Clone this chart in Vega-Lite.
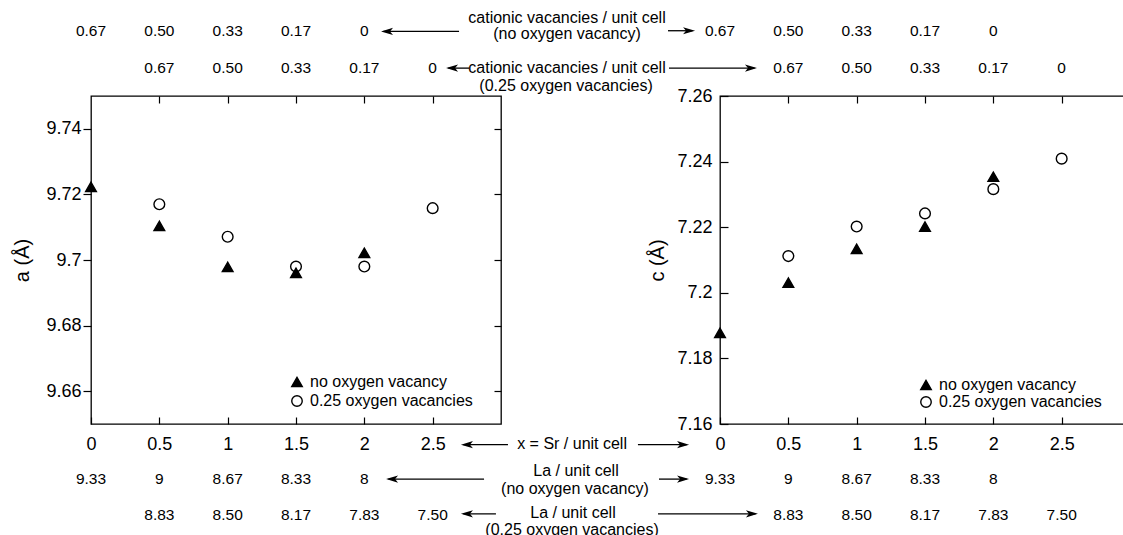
{
  "$schema": "https://vega.github.io/schema/vega-lite/v6.json",
  "padding": {"left": 12, "top": 9, "right": 0, "bottom": 0},
  "background": "white",
  "config": {
    "font": "Liberation Sans",
    "view": {"stroke": "black", "strokeWidth": 1.3},
    "axis": {"labelColor": "black", "tickColor": "black", "titleColor": "black", "tickWidth": 1.2, "labelFont": "Liberation Sans", "titleFont": "Liberation Sans", "grid": false, "domain": false},
    "legend": {"labelFont": "Liberation Sans", "labelColor": "black", "labelLimit": 400},
    "text": {"font": "Liberation Sans", "color": "black"}
  },
  "datasets": {
    "a": [
      {"Sr": 0.5, "series": "0.25 oxygen vacancies", "a": 9.7170},
      {"Sr": 1, "series": "0.25 oxygen vacancies", "a": 9.7071},
      {"Sr": 1.5, "series": "0.25 oxygen vacancies", "a": 9.6980},
      {"Sr": 2, "series": "0.25 oxygen vacancies", "a": 9.6980},
      {"Sr": 2.5, "series": "0.25 oxygen vacancies", "a": 9.7158},
      {"Sr": 0, "series": "no oxygen vacancy", "a": 9.7223},
      {"Sr": 0.5, "series": "no oxygen vacancy", "a": 9.7104},
      {"Sr": 1, "series": "no oxygen vacancy", "a": 9.6979},
      {"Sr": 1.5, "series": "no oxygen vacancy", "a": 9.6961},
      {"Sr": 2, "series": "no oxygen vacancy", "a": 9.7022}
    ],
    "c": [
      {"Sr": 0.5, "series": "0.25 oxygen vacancies", "c": 7.2112},
      {"Sr": 1, "series": "0.25 oxygen vacancies", "c": 7.2202},
      {"Sr": 1.5, "series": "0.25 oxygen vacancies", "c": 7.2242},
      {"Sr": 2, "series": "0.25 oxygen vacancies", "c": 7.2316},
      {"Sr": 2.5, "series": "0.25 oxygen vacancies", "c": 7.2409},
      {"Sr": 0, "series": "no oxygen vacancy", "c": 7.1878},
      {"Sr": 0.5, "series": "no oxygen vacancy", "c": 7.2031},
      {"Sr": 1, "series": "no oxygen vacancy", "c": 7.2134},
      {"Sr": 1.5, "series": "no oxygen vacancy", "c": 7.2202},
      {"Sr": 2, "series": "no oxygen vacancy", "c": 7.2354}
    ],
    "cat": [
      {"Sr": 0, "oxygen": "none", "vac": "0.67"},
      {"Sr": 0.5, "oxygen": "none", "vac": "0.50"},
      {"Sr": 1, "oxygen": "none", "vac": "0.33"},
      {"Sr": 1.5, "oxygen": "none", "vac": "0.17"},
      {"Sr": 2, "oxygen": "none", "vac": "0"},
      {"Sr": 0.5, "oxygen": "0.25", "vac": "0.67"},
      {"Sr": 1, "oxygen": "0.25", "vac": "0.50"},
      {"Sr": 1.5, "oxygen": "0.25", "vac": "0.33"},
      {"Sr": 2, "oxygen": "0.25", "vac": "0.17"},
      {"Sr": 2.5, "oxygen": "0.25", "vac": "0"}
    ],
    "la": [
      {"Sr": 0, "oxygen": "none", "La": "9.33"},
      {"Sr": 0.5, "oxygen": "none", "La": "9"},
      {"Sr": 1, "oxygen": "none", "La": "8.67"},
      {"Sr": 1.5, "oxygen": "none", "La": "8.33"},
      {"Sr": 2, "oxygen": "none", "La": "8"},
      {"Sr": 0.5, "oxygen": "0.25", "La": "8.83"},
      {"Sr": 1, "oxygen": "0.25", "La": "8.50"},
      {"Sr": 1.5, "oxygen": "0.25", "La": "8.17"},
      {"Sr": 2, "oxygen": "0.25", "La": "7.83"},
      {"Sr": 2.5, "oxygen": "0.25", "La": "7.50"}
    ],
    "one": [{}]
  },
  "spacing": 219,
  "bounds": "flush",
  "resolve": {"scale": {"shape": "independent", "fill": "independent"}, "legend": {"shape": "independent", "fill": "independent"}},
  "hconcat": [
    {
      "width": 410,
      "height": 328,
      "resolve": {"axis": {"x": "independent", "y": "independent"}},
      "layer": [
        {
          "data": {"name": "a"},
          "mark": {"type": "point", "filled": true, "stroke": "black", "strokeWidth": 1.4, "opacity": 1, "size": 115},
          "encoding": {
            "x": {"field": "Sr", "type": "quantitative", "scale": {"domain": [0, 3], "nice": false, "zero": false},
              "axis": {"orient": "bottom", "values": [0, 0.5, 1, 1.5, 2, 2.5], "format": "~g", "tickSize": -7, "labelPadding": 18, "labelFontSize": 18, "labelFlush": false, "title": null}},
            "y": {"field": "a", "type": "quantitative", "scale": {"domain": [9.65, 9.75], "nice": false, "zero": false},
              "axis": {"orient": "left", "values": [9.66, 9.68, 9.7, 9.72, 9.74], "format": "~g", "tickSize": 8, "labelPadding": 2, "labelFontSize": 18, "title": "a (Å)", "titleFontSize": 20, "titleFontWeight": "normal", "titlePadding": 13}},
            "shape": {"field": "series", "type": "nominal", "scale": {"domain": ["no oxygen vacancy", "0.25 oxygen vacancies"], "range": ["triangle-up", "circle"]},
              "legend": {"orient": "none", "legendX": 198, "legendY": 278, "title": null, "labelFontSize": 16, "symbolStrokeColor": "black", "symbolStrokeWidth": 1.4, "symbolSize": 110, "symbolFillColor": "black", "labelOffset": 5, "rowPadding": 2}},
            "fill": {"field": "series", "type": "nominal", "scale": {"domain": ["no oxygen vacancy", "0.25 oxygen vacancies"], "range": ["black", "white"]}, "legend": null}
          }
        },
        {
          "data": {"name": "a"},
          "mark": {"type": "point", "opacity": 0},
          "encoding": {
            "x": {"field": "Sr", "type": "quantitative", "axis": {"orient": "top", "values": [0.5, 1, 1.5, 2, 2.5], "tickSize": -7, "labels": false, "title": null}},
            "y": {"field": "a", "type": "quantitative", "axis": {"orient": "right", "values": [9.66, 9.68, 9.7, 9.72, 9.74], "tickSize": -7, "labels": false, "title": null}}
          }
        },
        {
          "data": {"name": "cat"},
          "transform": [{"filter": "datum.oxygen == 'none'"}],
          "mark": {"type": "text", "fontSize": 15.5, "baseline": "middle", "align": "center"},
          "encoding": {"x": {"field": "Sr", "type": "quantitative", "axis": null}, "y": {"datum": 9.7698, "type": "quantitative", "axis": null}, "text": {"field": "vac"}}
        },
        {
          "data": {"name": "cat"},
          "transform": [{"filter": "datum.oxygen == '0.25'"}],
          "mark": {"type": "text", "fontSize": 15.5, "baseline": "middle", "align": "center"},
          "encoding": {"x": {"field": "Sr", "type": "quantitative", "axis": null}, "y": {"datum": 9.7585, "type": "quantitative", "axis": null}, "text": {"field": "vac"}}
        },
        {
          "data": {"name": "la"},
          "transform": [{"filter": "datum.oxygen == 'none'"}],
          "mark": {"type": "text", "fontSize": 15.5, "baseline": "middle", "align": "center"},
          "encoding": {"x": {"field": "Sr", "type": "quantitative", "axis": null}, "y": {"datum": 9.6332, "type": "quantitative", "axis": null}, "text": {"field": "La"}}
        },
        {
          "data": {"name": "la"},
          "transform": [{"filter": "datum.oxygen == '0.25'"}],
          "mark": {"type": "text", "fontSize": 15.5, "baseline": "middle", "align": "center"},
          "encoding": {"x": {"field": "Sr", "type": "quantitative", "axis": null}, "y": {"datum": 9.6223, "type": "quantitative", "axis": null}, "text": {"field": "La"}}
        },
        {"data": {"name": "one"}, "mark": {"type": "text", "text": "cationic vacancies / unit cell", "fontSize": 16, "align": "center", "baseline": "middle"},
          "encoding": {"x": {"datum": 3.483, "type": "quantitative", "axis": null}, "y": {"datum": 9.7738, "type": "quantitative", "axis": null}}},
        {"data": {"name": "one"}, "mark": {"type": "text", "text": "(no oxygen vacancy)", "fontSize": 16, "align": "center", "baseline": "middle"},
          "encoding": {"x": {"datum": 3.483, "type": "quantitative", "axis": null}, "y": {"datum": 9.7689, "type": "quantitative", "axis": null}}},
        {"data": {"name": "one"}, "mark": {"type": "text", "text": "cationic vacancies / unit cell", "fontSize": 16, "align": "center", "baseline": "middle"},
          "encoding": {"x": {"datum": 3.483, "type": "quantitative", "axis": null}, "y": {"datum": 9.7584, "type": "quantitative", "axis": null}}},
        {"data": {"name": "one"}, "mark": {"type": "text", "text": "(0.25 oxygen vacancies)", "fontSize": 16, "align": "center", "baseline": "middle"},
          "encoding": {"x": {"datum": 3.476, "type": "quantitative", "axis": null}, "y": {"datum": 9.7532, "type": "quantitative", "axis": null}}},
        {"data": {"name": "one"}, "mark": {"type": "text", "text": "x = Sr / unit cell", "fontSize": 16, "align": "center", "baseline": "middle"},
          "encoding": {"x": {"datum": 3.52, "type": "quantitative", "axis": null}, "y": {"datum": 9.6439, "type": "quantitative", "axis": null}}},
        {"data": {"name": "one"}, "mark": {"type": "text", "text": "La / unit cell", "fontSize": 16, "align": "center", "baseline": "middle"},
          "encoding": {"x": {"datum": 3.549, "type": "quantitative", "axis": null}, "y": {"datum": 9.6357, "type": "quantitative", "axis": null}}},
        {"data": {"name": "one"}, "mark": {"type": "text", "text": "(no oxygen vacancy)", "fontSize": 16, "align": "center", "baseline": "middle"},
          "encoding": {"x": {"datum": 3.541, "type": "quantitative", "axis": null}, "y": {"datum": 9.6302, "type": "quantitative", "axis": null}}},
        {"data": {"name": "one"}, "mark": {"type": "text", "text": "La / unit cell", "fontSize": 16, "align": "center", "baseline": "middle"},
          "encoding": {"x": {"datum": 3.527, "type": "quantitative", "axis": null}, "y": {"datum": 9.6229, "type": "quantitative", "axis": null}}},
        {"data": {"name": "one"}, "mark": {"type": "text", "text": "(0.25 oxygen vacancies)", "fontSize": 16, "align": "center", "baseline": "middle"},
          "encoding": {"x": {"datum": 3.52, "type": "quantitative", "axis": null}, "y": {"datum": 9.6177, "type": "quantitative", "axis": null}}},

        {"data": {"name": "one"}, "mark": {"type": "rule", "color": "black", "strokeWidth": 1.3},
          "encoding": {"x": {"datum": 2.14, "type": "quantitative", "axis": null}, "x2": {"datum": 2.693}, "y": {"datum": 9.7697, "type": "quantitative", "axis": null}}},
        {"data": {"name": "one"}, "mark": {"type": "point", "shape": "M0,0L2,-0.6L1.5,0L2,0.6Z", "size": 144, "filled": true, "color": "black", "opacity": 1},
          "encoding": {"x": {"datum": 2.122, "type": "quantitative", "axis": null}, "y": {"datum": 9.7697, "type": "quantitative", "axis": null}}},
        {"data": {"name": "one"}, "mark": {"type": "rule", "color": "black", "strokeWidth": 1.3},
          "encoding": {"x": {"datum": 4.222, "type": "quantitative", "axis": null}, "x2": {"datum": 4.40}, "y": {"datum": 9.7699, "type": "quantitative", "axis": null}}},
        {"data": {"name": "one"}, "mark": {"type": "point", "shape": "M0,0L-2,-0.6L-1.5,0L-2,0.6Z", "size": 144, "filled": true, "color": "black", "opacity": 1},
          "encoding": {"x": {"datum": 4.42, "type": "quantitative", "axis": null}, "y": {"datum": 9.7699, "type": "quantitative", "axis": null}}},

        {"data": {"name": "one"}, "mark": {"type": "rule", "color": "black", "strokeWidth": 1.3},
          "encoding": {"x": {"datum": 2.615, "type": "quantitative", "axis": null}, "x2": {"datum": 2.766}, "y": {"datum": 9.7585, "type": "quantitative", "axis": null}}},
        {"data": {"name": "one"}, "mark": {"type": "point", "shape": "M0,0L2,-0.6L1.5,0L2,0.6Z", "size": 144, "filled": true, "color": "black", "opacity": 1},
          "encoding": {"x": {"datum": 2.598, "type": "quantitative", "axis": null}, "y": {"datum": 9.7585, "type": "quantitative", "axis": null}}},
        {"data": {"name": "one"}, "mark": {"type": "rule", "color": "black", "strokeWidth": 1.3},
          "encoding": {"x": {"datum": 4.229, "type": "quantitative", "axis": null}, "x2": {"datum": 4.855}, "y": {"datum": 9.7585, "type": "quantitative", "axis": null}}},
        {"data": {"name": "one"}, "mark": {"type": "point", "shape": "M0,0L-2,-0.6L-1.5,0L-2,0.6Z", "size": 144, "filled": true, "color": "black", "opacity": 1},
          "encoding": {"x": {"datum": 4.873, "type": "quantitative", "axis": null}, "y": {"datum": 9.7585, "type": "quantitative", "axis": null}}},

        {"data": {"name": "one"}, "mark": {"type": "rule", "color": "black", "strokeWidth": 1.3},
          "encoding": {"x": {"datum": 2.725, "type": "quantitative", "axis": null}, "x2": {"datum": 3.051}, "y": {"datum": 9.6437, "type": "quantitative", "axis": null}}},
        {"data": {"name": "one"}, "mark": {"type": "point", "shape": "M0,0L2,-0.6L1.5,0L2,0.6Z", "size": 144, "filled": true, "color": "black", "opacity": 1},
          "encoding": {"x": {"datum": 2.707, "type": "quantitative", "axis": null}, "y": {"datum": 9.6437, "type": "quantitative", "axis": null}}},
        {"data": {"name": "one"}, "mark": {"type": "rule", "color": "black", "strokeWidth": 1.3},
          "encoding": {"x": {"datum": 4.002, "type": "quantitative", "axis": null}, "x2": {"datum": 4.358}, "y": {"datum": 9.6437, "type": "quantitative", "axis": null}}},
        {"data": {"name": "one"}, "mark": {"type": "point", "shape": "M0,0L-2,-0.6L-1.5,0L-2,0.6Z", "size": 144, "filled": true, "color": "black", "opacity": 1},
          "encoding": {"x": {"datum": 4.376, "type": "quantitative", "axis": null}, "y": {"datum": 9.6437, "type": "quantitative", "axis": null}}},

        {"data": {"name": "one"}, "mark": {"type": "rule", "color": "black", "strokeWidth": 1.3},
          "encoding": {"x": {"datum": 2.177, "type": "quantitative", "axis": null}, "x2": {"datum": 2.876}, "y": {"datum": 9.6332, "type": "quantitative", "axis": null}}},
        {"data": {"name": "one"}, "mark": {"type": "point", "shape": "M0,0L2,-0.6L1.5,0L2,0.6Z", "size": 144, "filled": true, "color": "black", "opacity": 1},
          "encoding": {"x": {"datum": 2.159, "type": "quantitative", "axis": null}, "y": {"datum": 9.6332, "type": "quantitative", "axis": null}}},
        {"data": {"name": "one"}, "mark": {"type": "rule", "color": "black", "strokeWidth": 1.3},
          "encoding": {"x": {"datum": 4.156, "type": "quantitative", "axis": null}, "x2": {"datum": 4.358}, "y": {"datum": 9.6332, "type": "quantitative", "axis": null}}},
        {"data": {"name": "one"}, "mark": {"type": "point", "shape": "M0,0L-2,-0.6L-1.5,0L-2,0.6Z", "size": 144, "filled": true, "color": "black", "opacity": 1},
          "encoding": {"x": {"datum": 4.376, "type": "quantitative", "axis": null}, "y": {"datum": 9.6332, "type": "quantitative", "axis": null}}},

        {"data": {"name": "one"}, "mark": {"type": "rule", "color": "black", "strokeWidth": 1.3},
          "encoding": {"x": {"datum": 2.725, "type": "quantitative", "axis": null}, "x2": {"datum": 2.963}, "y": {"datum": 9.6226, "type": "quantitative", "axis": null}}},
        {"data": {"name": "one"}, "mark": {"type": "point", "shape": "M0,0L2,-0.6L1.5,0L2,0.6Z", "size": 144, "filled": true, "color": "black", "opacity": 1},
          "encoding": {"x": {"datum": 2.707, "type": "quantitative", "axis": null}, "y": {"datum": 9.6226, "type": "quantitative", "axis": null}}},
        {"data": {"name": "one"}, "mark": {"type": "rule", "color": "black", "strokeWidth": 1.3},
          "encoding": {"x": {"datum": 4.149, "type": "quantitative", "axis": null}, "x2": {"datum": 4.862}, "y": {"datum": 9.6226, "type": "quantitative", "axis": null}}},
        {"data": {"name": "one"}, "mark": {"type": "point", "shape": "M0,0L-2,-0.6L-1.5,0L-2,0.6Z", "size": 144, "filled": true, "color": "black", "opacity": 1},
          "encoding": {"x": {"datum": 4.88, "type": "quantitative", "axis": null}, "y": {"datum": 9.6226, "type": "quantitative", "axis": null}}}
      ]
    },
    {
      "width": 410,
      "height": 328,
      "resolve": {"axis": {"x": "independent", "y": "independent"}},
      "layer": [
        {
          "data": {"name": "c"},
          "mark": {"type": "point", "filled": true, "stroke": "black", "strokeWidth": 1.4, "opacity": 1, "size": 115},
          "encoding": {
            "x": {"field": "Sr", "type": "quantitative", "scale": {"domain": [0, 3], "nice": false, "zero": false},
              "axis": {"orient": "bottom", "values": [0, 0.5, 1, 1.5, 2, 2.5], "format": "~g", "tickSize": -7, "labelPadding": 18, "labelFontSize": 18, "labelFlush": false, "title": null}},
            "y": {"field": "c", "type": "quantitative", "scale": {"domain": [7.16, 7.26], "nice": false, "zero": false},
              "axis": {"orient": "left", "values": [7.16, 7.18, 7.2, 7.22, 7.24, 7.26], "format": "~g", "tickSize": -8, "labelPadding": 16, "labelFontSize": 18, "title": "c (Å)", "titleFontSize": 20, "titleFontWeight": "normal", "titlePadding": 9}},
            "shape": {"field": "series", "type": "nominal", "scale": {"domain": ["no oxygen vacancy", "0.25 oxygen vacancies"], "range": ["triangle-up", "circle"]},
              "legend": {"orient": "none", "legendX": 198, "legendY": 281, "title": null, "labelFontSize": 16, "symbolStrokeColor": "black", "symbolStrokeWidth": 1.4, "symbolSize": 110, "symbolFillColor": "black", "labelOffset": 5, "rowPadding": 0}},
            "fill": {"field": "series", "type": "nominal", "scale": {"domain": ["no oxygen vacancy", "0.25 oxygen vacancies"], "range": ["black", "white"]}, "legend": null}
          }
        },
        {
          "data": {"name": "c"},
          "mark": {"type": "point", "opacity": 0},
          "encoding": {
            "x": {"field": "Sr", "type": "quantitative", "axis": {"orient": "top", "values": [0.5, 1, 1.5, 2, 2.5], "tickSize": -7, "labels": false, "title": null}},
            "y": {"field": "c", "type": "quantitative", "axis": {"orient": "right", "values": [7.18, 7.2, 7.22, 7.24], "tickSize": -7, "labels": false, "title": null}}
          }
        },
        {
          "data": {"name": "cat"},
          "transform": [{"filter": "datum.oxygen == 'none'"}],
          "mark": {"type": "text", "fontSize": 15.5, "baseline": "middle", "align": "center"},
          "encoding": {"x": {"field": "Sr", "type": "quantitative", "axis": null}, "y": {"datum": 7.2798, "type": "quantitative", "axis": null}, "text": {"field": "vac"}}
        },
        {
          "data": {"name": "cat"},
          "transform": [{"filter": "datum.oxygen == '0.25'"}],
          "mark": {"type": "text", "fontSize": 15.5, "baseline": "middle", "align": "center"},
          "encoding": {"x": {"field": "Sr", "type": "quantitative", "axis": null}, "y": {"datum": 7.2685, "type": "quantitative", "axis": null}, "text": {"field": "vac"}}
        },
        {
          "data": {"name": "la"},
          "transform": [{"filter": "datum.oxygen == 'none'"}],
          "mark": {"type": "text", "fontSize": 15.5, "baseline": "middle", "align": "center"},
          "encoding": {"x": {"field": "Sr", "type": "quantitative", "axis": null}, "y": {"datum": 7.1432, "type": "quantitative", "axis": null}, "text": {"field": "La"}}
        },
        {
          "data": {"name": "la"},
          "transform": [{"filter": "datum.oxygen == '0.25'"}],
          "mark": {"type": "text", "fontSize": 15.5, "baseline": "middle", "align": "center"},
          "encoding": {"x": {"field": "Sr", "type": "quantitative", "axis": null}, "y": {"datum": 7.1323, "type": "quantitative", "axis": null}, "text": {"field": "La"}}
        }
      ]
    }
  ]
}
